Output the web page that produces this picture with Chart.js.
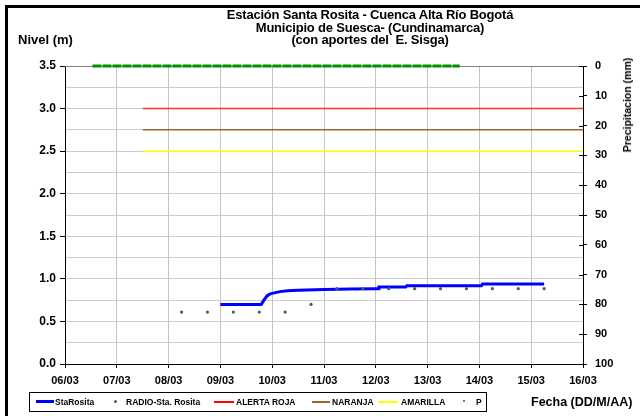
<!DOCTYPE html>
<html>
<head>
<meta charset="utf-8">
<script src="https://cdn.jsdelivr.net/npm/chart.js@4.4.1/dist/chart.umd.min.js"></script>
<style>
    body { margin: 0; background: #fff; font-family: "Liberation Sans", Arial, sans-serif; }
    #wrap { position: relative; width: 640px; height: 416px; overflow: hidden; }
    #frame { position: absolute; left: 5px; top: 5px; width: 700px; height: 500px; border: 3px solid #000; box-sizing: border-box; }
    canvas { position: absolute; left: 0; top: 0; }
    .txt { position: absolute; font-weight: bold; color: #000; white-space: nowrap; }
    #title { left: 170px; width: 400px; top: 9px; text-align: center; font-size: 13px; line-height: 12.5px; letter-spacing: -0.2px; }
    #legend { position: absolute; left: 29px; top: 392px; width: 458px; height: 20px; border: 1px solid #000; box-sizing: border-box; background: #fff; }
    .lg { position: absolute; top: 4px; font-size: 8.5px; font-weight: bold; }
    .ln { position: absolute; top: 8px; height: 2px; }
    .dot { position: absolute; top: 7px; width: 3px; height: 3px; border-radius: 2px; }
</style>
</head>
<body>
<div id="wrap">
    <div id="frame"></div>
    <canvas id="nivelChart" width="640" height="416"></canvas>
    <div class="txt" id="title">Estación Santa Rosita - Cuenca Alta Río Bogotá<br>Municipio de Suesca- (Cundinamarca)<br>(con aportes del&nbsp; E. Sisga)</div>
    <div class="txt" style="left:18px; top:32px; font-size:13px;">Nivel (m)</div>
    <div class="txt" style="left:627px; top:105px; font-size:10.5px; transform: translate(-50%, -50%) rotate(-90deg);">Precipitacion (mm)</div>
    <div class="txt" style="left:531px; top:395px; font-size:12.5px;">Fecha (DD/M/AA)</div>
    <div id="legend">
        <div class="ln" style="left:6px; width:18px; height:3px; top:7px; background:#0000ff;"></div>
        <div class="lg" style="left:25px;">StaRosita</div>
        <div class="dot" style="left:84px; background:#336666;"></div>
        <div class="lg" style="left:96px;">RADIO-Sta. Rosita</div>
        <div class="ln" style="left:184px; width:20px; background:#ff0000;"></div>
        <div class="lg" style="left:206px;">ALERTA ROJA</div>
        <div class="ln" style="left:282px; width:18px; background:#996633;"></div>
        <div class="lg" style="left:302px;">NARANJA</div>
        <div class="ln" style="left:348px; width:20px; background:#ffff00;"></div>
        <div class="lg" style="left:371px;">AMARILLA</div>
        <div class="dot" style="left:433px; width:2px; height:2px; background:#008000;"></div>
        <div class="lg" style="left:446px;">P</div>
    </div>
</div>
<script>
// x values are days of March (6 = 06/03 00:00)
const dayLabels = ["06/03", "07/03", "08/03", "09/03", "10/03", "11/03", "12/03", "13/03", "14/03", "15/03", "16/03"];

const staRositaX = [9.0, 9.79, 9.84, 9.9, 9.95, 10.0, 10.15, 10.3, 10.5, 11.0, 11.5, 12.0, 12.05, 12.06, 12.58, 12.6, 13.5, 14.04, 14.06, 15.25];
const staRositaY = [0.70, 0.70, 0.75, 0.80, 0.82, 0.83, 0.85, 0.86, 0.865, 0.875, 0.88, 0.885, 0.885, 0.905, 0.905, 0.92, 0.92, 0.92, 0.94, 0.94];

const radioX = [8.25, 8.75, 9.25, 9.75, 10.25, 10.75, 11.25, 11.75, 12.25, 12.75, 13.25, 13.75, 14.25, 14.75, 15.25];
const radioY = [0.61, 0.61, 0.61, 0.61, 0.61, 0.70, 0.885, 0.885, 0.885, 0.885, 0.885, 0.885, 0.885, 0.885, 0.885];

const alertaX = [7.5, 16];
const alertaRoja = [3.0, 3.0];
const naranja = [2.75, 2.75];
const amarilla = [2.5, 2.5];

const precipX = [6.53, 13.62];
const precipY = [0, 0];

function pts(xs, ys) {
    return xs.map((x, i) => ({ x: x, y: ys[i] }));
}

const ctx = document.getElementById("nivelChart").getContext("2d");

new Chart(ctx, {
    type: 'line',
    data: {
        datasets: [
            {
                label: 'ALERTA ROJA',
                data: pts(alertaX, alertaRoja),
                borderColor: '#ff3333',
                borderWidth: 1.5,
                pointRadius: 0
            },
            {
                label: 'NARANJA',
                data: pts(alertaX, naranja),
                borderColor: '#996633',
                borderWidth: 1.5,
                pointRadius: 0
            },
            {
                label: 'AMARILLA',
                data: pts(alertaX, amarilla),
                borderColor: '#ffff00',
                borderWidth: 1.5,
                pointRadius: 0
            },
            {
                label: 'RADIO-Sta. Rosita',
                data: pts(radioX, radioY),
                showLine: false,
                pointRadius: 1.6,
                pointBackgroundColor: '#336666',
                pointBorderWidth: 0
            },
            {
                label: 'StaRosita',
                data: pts(staRositaX, staRositaY),
                borderColor: '#0000ff',
                borderWidth: 3,
                pointRadius: 0,
                tension: 0
            },
            {
                label: 'P',
                data: pts(precipX, precipY),
                yAxisID: 'y1',
                borderColor: '#009000',
                borderWidth: 3,
                borderDash: [9, 1],
                pointRadius: 0,
                clip: 4
            }
        ]
    },
    options: {
        responsive: false,
        animation: false,
        events: [],
        layout: { padding: { top: 66, left: 0, right: 0, bottom: 0 } },
        plugins: {
            legend: { display: false },
            title: { display: false },
            tooltip: { enabled: false }
        },
        scales: {
            x: {
                type: 'linear',
                min: 6,
                max: 16,
                afterFit: s => { s.height = 52; },
                afterBuildTicks: s => { s.ticks = dayLabels.map((l, i) => ({ value: 6 + i })); },
                ticks: {
                    color: '#000',
                    font: { family: 'Liberation Sans', size: 11, weight: 'bold' },
                    padding: 6,
                    maxRotation: 0,
                    callback: (v) => dayLabels[Math.round(v - 6)]
                },
                grid: { color: '#c4c4c4', lineWidth: 1, tickColor: '#000', tickLength: 4 },
                border: { color: '#000', width: 1 }
            },
            y: {
                min: 0,
                max: 3.5,
                afterFit: s => { s.width = 65; },
                afterBuildTicks: s => {
                    const t = [];
                    for (let i = 0; i <= 14; i++) t.push({ value: i * 0.25 });
                    s.ticks = t;
                },
                ticks: {
                    color: '#000',
                    font: { family: 'Liberation Sans', size: 12, weight: 'bold' },
                    padding: 4,
                    callback: (v) => (Math.round(v * 4) % 2 === 0 ? v.toFixed(1) : '')
                },
                grid: {
                    color: '#cccccc',
                    lineWidth: 1,
                    tickLength: 5,
                    tickColor: c => (Math.round(c.tick.value * 4) % 2 === 0 ? '#000' : 'rgba(0,0,0,0)')
                },
                border: { color: '#000', width: 1 }
            },
            y1: {
                position: 'right',
                reverse: true,
                min: 0,
                max: 100,
                afterFit: s => { s.width = 57; },
                ticks: {
                    stepSize: 10,
                    color: '#000',
                    font: { family: 'Liberation Sans', size: 11, weight: 'bold' },
                    padding: 8
                },
                grid: { drawOnChartArea: false, tickColor: '#000', tickLength: 4 },
                border: { color: '#000', width: 1 }
            }
        }
    },
    plugins: [{
        id: 'plotTop',
        beforeDatasetsDraw(chart) {
            const a = chart.chartArea;
            const c = chart.ctx;
            c.save();
            c.strokeStyle = '#808080';
            c.lineWidth = 1;
            c.beginPath();
            c.moveTo(a.left, a.top + 0.5);
            c.lineTo(a.right, a.top + 0.5);
            c.stroke();
            c.restore();
        },
        afterDraw(chart) {
            // right axis ticks cross the axis line
            const a = chart.chartArea;
            const c = chart.ctx;
            c.save();
            c.strokeStyle = '#000';
            c.lineWidth = 1;
            const y1 = chart.scales.y1;
            y1.ticks.forEach(t => {
                const py = Math.round(y1.getPixelForValue(t.value)) + 0.5;
                c.beginPath();
                c.moveTo(a.right - 4, py);
                c.lineTo(a.right, py);
                c.stroke();
            });
            c.restore();
        }
    }]
});
</script>
</body>
</html>
